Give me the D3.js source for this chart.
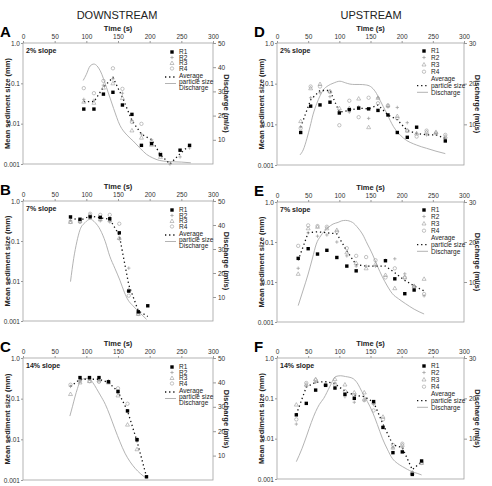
<!DOCTYPE html>
<html>
<head>
<meta charset="utf-8">
<script src="https://cdn.jsdelivr.net/npm/d3@7"></script>
<style>
  body { margin: 0; background: #fff; }
  svg { font-family: "Liberation Sans", Arial, sans-serif; }
</style>
</head>
<body>
<svg id="chart" width="492" height="486"></svg>
<script>
// ---- data ----
const timeTicks = [0, 50, 100, 150, 200, 250, 300];
const sizeTicks = [1, 0.1, 0.01, 0.001];
const sizeTickLabels = ["1.0", "0.1", "0.01", "0.001"];
const seriesNames = ["R1", "R2", "R3", "R4"];

// A - downstream 2%
const aTime = [96, 112, 127, 142, 157, 172, 187, 203, 217, 232, 248, 263];
const aR1 = [0.023, 0.023, 0.054, 0.06, 0.029, 0.017, 0.0029, 0.0032, 0.0017, null, 0.0022, 0.0029];
const aR2 = [0.04, 0.038, 0.09, 0.13, 0.057, 0.012, 0.0055, 0.004, 0.0017, 0.001, 0.0015, 0.0025];
const aR3 = [0.035, 0.033, 0.078, 0.1, 0.043, 0.0068, 0.0045, 0.003, 0.0015, null, null, null];
const aR4 = [0.076, 0.057, 0.115, 0.236, 0.073, 0.011, 0.0099, 0.0035, 0.0018, null, null, null];
const aAvg = [0.035, 0.035, 0.08, 0.14, 0.045, 0.012, 0.0055, 0.004, 0.0017, 0.001, 0.0018, 0.0029];
const aQTime = [95, 100, 106, 112, 117, 122, 132, 143, 153, 164, 174, 185, 195, 205, 215, 230, 250, 265];
const aQ = [34.5, 37, 40.5, 41.3, 40.5, 38.5, 31.5, 23, 16, 12, 9.5, 6.5, 4, 2.5, 1.5, 1, 0.8, 0.5];

// B - downstream 7%
const bTime = [75, 90, 106, 122, 137, 152, 167, 182, 197];
const bR1 = [0.4, 0.35, 0.4, 0.39, 0.36, 0.16, 0.0056, 0.0017, 0.0024];
const bR2 = [0.33, 0.3, 0.42, 0.32, 0.3, 0.11, 0.021, 0.0016, null];
const bR3 = [0.3, 0.32, 0.45, 0.35, 0.33, 0.12, 0.006, 0.0015, null];
const bR4 = [0.3, 0.3, 0.48, 0.45, 0.45, 0.27, 0.0043, 0.0015, null];
const bAvg = [0.38, 0.33, 0.42, 0.38, 0.35, 0.14, 0.008, 0.0018, 0.0013];
const bQTime = [75, 80, 85, 90, 98, 106, 114, 122, 130, 137, 145, 153, 160, 166, 173, 180, 188, 195];
const bQ = [16.4, 26, 33, 38, 41, 42.4, 41, 38, 33, 27, 22, 17, 12, 8.7, 6.5, 4.6, 2.5, 0.7];

// C - downstream 14%
const cTime = [75, 90, 105, 120, 135, 150, 165, 180, 195];
const cR1 = [null, 0.33, 0.33, 0.33, 0.26, 0.15, 0.05, 0.0098, 0.0012];
const cR2 = [0.2, 0.28, 0.3, 0.28, 0.27, 0.14, 0.05, 0.009, null];
const cR3 = [0.13, 0.25, 0.27, 0.28, 0.25, 0.12, 0.023, 0.0057, null];
const cR4 = [0.22, 0.27, 0.27, 0.26, 0.26, 0.18, 0.075, 0.01, null];
const cAvg = [0.2, 0.3, 0.3, 0.3, 0.25, 0.15, 0.05, 0.009, 0.0012];
const cQTime = [74, 78, 82, 86, 90, 96, 103, 110, 116, 122, 130, 137, 145, 153, 161, 169, 177, 185, 195];
const cQ = [26.2, 30, 34, 37.5, 40.3, 41.5, 41.7, 40, 37.5, 34.8, 31, 26.6, 21, 15.7, 11, 7.5, 4.8, 2.7, 0.7];

// D - upstream 2%
const dTime = [38, 54, 69, 85, 100, 116, 131, 147, 162, 178, 193, 209, 224, 240, 255, 270];
const dR1 = [0.0063, 0.028, 0.03, 0.035, 0.019, 0.023, 0.025, 0.024, 0.022, 0.017, 0.0063, 0.0048, 0.0085, null, null, 0.0039];
const dR2 = [0.0087, 0.045, 0.06, 0.048, 0.021, 0.02, 0.027, 0.014, 0.045, 0.027, 0.026, 0.011, 0.006, 0.0055, 0.006, 0.0045];
const dR3 = [0.012, 0.077, 0.098, 0.065, 0.025, 0.025, 0.043, 0.0085, 0.045, 0.029, 0.016, 0.007, 0.006, 0.0065, 0.0065, 0.005];
const dR4 = [0.008, 0.085, 0.085, 0.063, 0.0095, 0.038, 0.015, 0.045, 0.033, 0.029, 0.014, 0.007, 0.005, 0.007, 0.006, 0.0055];
const dAvg = [0.0085, 0.04, 0.068, 0.068, 0.02, 0.022, 0.025, 0.024, 0.03, 0.017, 0.013, 0.007, 0.006, 0.0055, 0.0055, 0.0045];
const dQTime = [37, 42, 48, 53, 58, 64, 69, 74, 82, 90, 101, 110, 117, 125, 133, 142, 150, 158, 165, 176, 187, 203, 224, 240, 255, 270];
const dQ = [2.5, 3.7, 6.5, 9.4, 12.5, 15.2, 17, 18.4, 19.5, 20.1, 20.6, 20.2, 19.9, 19.8, 19.8, 19.7, 19.3, 18, 16, 12.7, 9.4, 6.6, 4.9, 4.1, 3.4, 2.8];

// E - upstream 7%
const eTime = [34, 50, 65, 80, 96, 112, 127, 143, 158, 174, 189, 205, 220, 236];
const eR1 = [0.039, 0.068, 0.05, 0.062, 0.041, 0.025, 0.019, null, null, 0.034, 0.012, 0.0051, 0.0063, null];
const eR2 = [0.022, 0.17, 0.14, 0.15, 0.1, 0.045, 0.025, 0.025, 0.025, 0.035, 0.038, 0.016, 0.008, 0.0045];
const eR3 = [0.016, 0.22, 0.24, 0.22, 0.2, 0.055, 0.03, 0.022, 0.028, 0.015, 0.007, 0.013, 0.008, 0.012];
const eR4 = [0.08, 0.26, 0.25, 0.24, 0.18, 0.07, 0.045, 0.042, 0.035, 0.013, 0.022, 0.013, 0.0075, 0.005];
const eAvg = [0.035, 0.17, 0.18, 0.17, 0.16, 0.06, 0.027, 0.025, 0.025, 0.025, 0.017, 0.011, 0.008, 0.006];
const eQTime = [34, 42, 50, 57, 63, 70, 82, 90, 98, 104, 110, 121, 130, 137, 145, 153, 161, 169, 177, 185, 195, 206, 220, 236];
const eQ = [4.1, 8, 12, 16, 19.5, 21.5, 23.6, 24.5, 24.9, 25.3, 25.4, 24.9, 23.5, 22, 19.5, 17, 14, 11.3, 9, 7.1, 5.8, 4.6, 3.2, 2];

// F - upstream 14%
const fTime = [31, 47, 62, 78, 93, 109, 124, 140, 155, 170, 186, 201, 217, 232];
const fR1 = [0.039, 0.075, 0.16, 0.21, 0.18, 0.126, 0.1, null, 0.083, 0.019, 0.0045, 0.0047, 0.0013, 0.0028];
const fR2 = [0.023, 0.2, 0.25, 0.22, 0.24, 0.11, 0.08, 0.09, 0.07, 0.02, 0.006, 0.006, 0.0015, 0.0027];
const fR3 = [0.07, 0.22, 0.3, 0.22, 0.3, 0.22, 0.14, 0.14, 0.08, 0.035, 0.006, 0.007, 0.0014, 0.0025];
const fR4 = [0.03, 0.24, 0.28, 0.22, 0.22, 0.15, 0.12, 0.09, 0.05, 0.03, 0.007, 0.0075, 0.0014, 0.0025];
const fAvg = [0.04, 0.19, 0.25, 0.26, 0.23, 0.15, 0.12, 0.11, 0.08, 0.023, 0.007, 0.006, 0.0017, 0.0027];
const fQTime = [31, 40, 48, 55, 62, 68, 75, 85, 94, 102, 110, 117, 123, 130, 136, 145, 153, 161, 169, 177, 185, 193, 201, 209, 217, 225, 232];
const fQ = [4.3, 7.5, 10.9, 14, 16.7, 18.5, 20, 23, 25.4, 25.6, 25.4, 25.2, 24.8, 23.5, 21.7, 19.2, 16.7, 13.5, 10.1, 7.4, 5.1, 3.9, 3.1, 2.4, 1.8, 1.4, 1];

const panels = [
  {id: "A", slope: "2% slope", x0: 23, x1: 213, y0: 43, y1: 164, qMax: 50, t: aTime, r: [aR1, aR2, aR3, aR4], avg: aAvg, qt: aQTime, q: aQ},
  {id: "B", slope: "7% slope", x0: 23, x1: 213, y0: 201, y1: 321, qMax: 50, t: bTime, r: [bR1, bR2, bR3, bR4], avg: bAvg, qt: bQTime, q: bQ},
  {id: "C", slope: "14% slope", x0: 23, x1: 213, y0: 358, y1: 480, qMax: 50, t: cTime, r: [cR1, cR2, cR3, cR4], avg: cAvg, qt: cQTime, q: cQ},
  {id: "D", slope: "2% slope", x0: 277, x1: 464, y0: 43, y1: 165, qMax: 30, t: dTime, r: [dR1, dR2, dR3, dR4], avg: dAvg, qt: dQTime, q: dQ},
  {id: "E", slope: "7% slope", x0: 277, x1: 464, y0: 202, y1: 322, qMax: 30, t: eTime, r: [eR1, eR2, eR3, eR4], avg: eAvg, qt: eQTime, q: eQ},
  {id: "F", slope: "14% slope", x0: 277, x1: 464, y0: 358, y1: 479, qMax: 30, t: fTime, r: [fR1, fR2, fR3, fR4], avg: fAvg, qt: fQTime, q: fQ}
];

const svg = d3.select("#chart");
const grey = "#9a9a9a";

svg.append("text").attr("x", 117).attr("y", 19).attr("text-anchor", "middle")
  .style("font-size", "11px").attr("fill", "#222").text("DOWNSTREAM");
svg.append("text").attr("x", 371).attr("y", 19).attr("text-anchor", "middle")
  .style("font-size", "11px").attr("fill", "#222").text("UPSTREAM");

// marker drawing
function marker(g, k, x, y) {
  if (k === 0) {
    g.append("rect").attr("x", x - 1.7).attr("y", y - 1.7).attr("width", 3.4).attr("height", 3.4).attr("fill", "#000");
  } else if (k === 1) {
    g.append("path").attr("d", `M${x - 1.7},${y}H${x + 1.7}M${x},${y - 1.7}V${y + 1.7}`)
      .attr("stroke", grey).attr("stroke-width", 0.7).attr("fill", "none");
  } else if (k === 2) {
    g.append("path").attr("d", `M${x},${y - 2}L${x + 2},${y + 1.5}L${x - 2},${y + 1.5}Z`)
      .attr("stroke", grey).attr("stroke-width", 0.6).attr("fill", "none");
  } else {
    g.append("circle").attr("cx", x).attr("cy", y).attr("r", 1.7).attr("stroke", grey)
      .attr("stroke-width", 0.6).attr("fill", "none");
  }
}

panels.forEach(p => {
  const g = svg.append("g");
  const left = p.x0 < 200;
  const x = d3.scaleLinear().domain([0, 300]).range([p.x0, p.x1]);
  const y = d3.scaleLog().domain([0.001, 1]).range([p.y1, p.y0]);
  const q = d3.scaleLinear().domain([0, p.qMax]).range([p.y1, p.y0]);

  // frame
  g.append("rect").attr("x", p.x0).attr("y", p.y0).attr("width", p.x1 - p.x0).attr("height", p.y1 - p.y0)
    .attr("fill", "none").attr("stroke", "#a0a0a0").attr("stroke-width", 0.8);

  const styleAxis = a => {
    a.select(".domain").remove();
    a.selectAll("line").attr("stroke", "#999");
    a.selectAll("text").style("font-size", "6.5px").attr("fill", "#333");
  };

  g.append("g").attr("transform", `translate(0,${p.y0})`)
    .call(d3.axisTop(x).tickValues(timeTicks).tickSize(2).tickPadding(2))
    .call(styleAxis);
  g.append("g").attr("transform", `translate(${p.x0},0)`)
    .call(d3.axisLeft(y).tickValues(sizeTicks).tickFormat((d, i) => sizeTickLabels[i]).tickSize(2).tickPadding(1))
    .call(styleAxis);
  g.append("g").attr("transform", `translate(${p.x1},0)`)
    .call(d3.axisRight(q).tickValues(d3.range(10, p.qMax + 1, 10)).tickSize(3).tickPadding(2))
    .call(styleAxis);

  // titles
  g.append("text").attr("x", (p.x0 + p.x1) / 2).attr("y", p.y0 - 12).attr("text-anchor", "middle")
    .style("font-size", "7.5px").style("font-weight", "bold").attr("fill", "#222").text("Time (s)");
  g.append("text").attr("x", p.x0 - 23).attr("y", p.y0 - 6)
    .style("font-size", "15px").style("font-weight", "bold").attr("fill", "#000").text(p.id);
  g.append("text").attr("x", p.x0 + 3).attr("y", p.y0 + 10)
    .style("font-size", "7px").style("font-weight", "bold").attr("fill", "#222").text(p.slope);
  const cy = (p.y0 + p.y1) / 2;
  g.append("text").attr("transform", `translate(${p.x0 - 13},${cy}) rotate(-90)`).attr("text-anchor", "middle")
    .style("font-size", "7.5px").style("font-weight", "bold").attr("fill", "#222").text("Mean sediment size (mm)");
  g.append("text").attr("transform", `translate(${p.x1 + 11},${cy}) rotate(90)`).attr("text-anchor", "middle")
    .style("font-size", "7.5px").style("font-weight", "bold").attr("fill", "#222").text("Discharge (ml/s)");

  // discharge line
  const qLine = d3.line().x((d, i) => x(p.qt[i])).y(d => q(d)).curve(d3.curveMonotoneX);
  g.append("path").attr("d", qLine(p.q)).attr("fill", "none").attr("stroke", "#aaa").attr("stroke-width", 0.9);

  // average line
  const aLine = d3.line().defined(d => d != null).x((d, i) => x(p.t[i])).y(d => y(d));
  g.append("path").attr("d", aLine(p.avg)).attr("fill", "none").attr("stroke", "#111")
    .attr("stroke-width", 1.3).attr("stroke-dasharray", "1.3,2.8");

  // markers (draw R4, R3, R2 first; R1 on top)
  [3, 2, 1, 0].forEach(k => {
    p.r[k].forEach((v, i) => { if (v != null) marker(g, k, x(p.t[i]), y(v)); });
  });

  // legend
  const lx = left ? p.x0 + 149 : p.x0 + 147;
  const tx = lx + 7;
  const rows = left ? [9, 14.5, 20, 25.5, 33, 39, 44.5] : [8, 14.5, 21.5, 28.7, 36, 42.7, 49.3];
  const labels = [...seriesNames, "Average", "particle size", "Discharge"];
  labels.forEach((s, i) => {
    g.append("text").attr("x", tx).attr("y", p.y0 + rows[i] + 2.3)
      .style("font-size", "6.5px").attr("fill", "#222").text(s);
    if (i < 4) marker(g, i, lx, p.y0 + rows[i]);
  });
  const dotY = left ? p.y0 + 34 : p.y0 + 42.7;
  const disY = left ? p.y0 + 40.5 : p.y0 + 49.3;
  g.append("line").attr("x1", lx - 7).attr("x2", lx + 4).attr("y1", dotY).attr("y2", dotY)
    .attr("stroke", "#111").attr("stroke-width", 1.3).attr("stroke-dasharray", "1.3,2.8");
  g.append("line").attr("x1", lx - 7).attr("x2", lx + 4).attr("y1", disY).attr("y2", disY)
    .attr("stroke", "#aaa").attr("stroke-width", 0.9);
});
</script>
</body>
</html>
